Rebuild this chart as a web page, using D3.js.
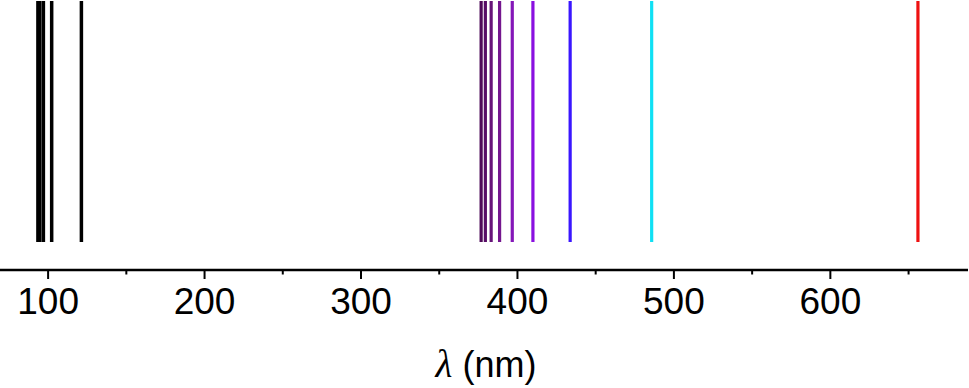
<!DOCTYPE html>
<html><head><meta charset="utf-8">
<script src="https://cdn.jsdelivr.net/npm/d3@7"></script>
<style>body{margin:0;background:#fff}svg{display:block}</style>
</head><body>
<svg id="c" width="969" height="388"></svg>
<script>
const wavelengths = [93.8, 95.0, 97.3, 102.6, 121.6, 377.1, 379.8, 383.5, 388.9, 397.0, 410.2, 434.0, 486.1, 656.3];
const lineColors = ["#000","#000","#000","#000","#000","#4e0a58","#580d66","#661478","#74168e","#8417b8","#8a10e0","#3a16ff","#10e0f4","#ee1111"];
const majorTicks = [100, 200, 300, 400, 500, 600];
const minorTicks = [150, 250, 350, 450, 550, 650];
const xTitle = "(nm)";

const svg = d3.select("#c");
const x = d3.scaleLinear().domain([69.57, 688.3]).range([0, 968]);
const axisY = 270, topY = 1, botY = 242;

svg.append("g").selectAll("line").data(wavelengths).join("line")
  .attr("x1", d => x(d)).attr("x2", d => x(d))
  .attr("y1", topY).attr("y2", botY)
  .attr("stroke", (d, i) => lineColors[i])
  .attr("stroke-width", (d, i) => i < 5 ? 3.5 : 3.2);

const g = svg.append("g").attr("transform", `translate(0,${axisY})`);
g.append("line").attr("x1", 0).attr("x2", 968).attr("y1", 0).attr("y2", 0)
  .attr("stroke", "#000").attr("stroke-width", 2.5);
const ax = d3.axisBottom(x).tickValues(majorTicks).tickSize(9).tickPadding(8.5).tickFormat(d3.format("d"));
const ag = g.append("g").call(ax);
ag.select(".domain").remove();
ag.selectAll(".tick line").attr("stroke", "#000").attr("stroke-width", 2);
ag.selectAll(".tick text").attr("font-family", "Liberation Sans, Arial, sans-serif")
  .attr("font-size", 37).attr("fill", "#000");
const mg = g.append("g").call(d3.axisBottom(x).tickValues(minorTicks).tickSize(4.5).tickFormat(""));
mg.select(".domain").remove();
mg.selectAll(".tick line").attr("stroke", "#000").attr("stroke-width", 2);

const t = svg.append("text").attr("x", 486).attr("y", 377).attr("text-anchor", "middle")
  .attr("font-family", "Liberation Sans, Arial, sans-serif").attr("font-size", 36).attr("fill", "#000");
t.append("tspan").attr("font-style", "italic").attr("font-size", 39).attr("font-family", "Liberation Serif, Times New Roman, serif").text("λ");
t.append("tspan").text(" " + xTitle);
</script>
</body></html>
